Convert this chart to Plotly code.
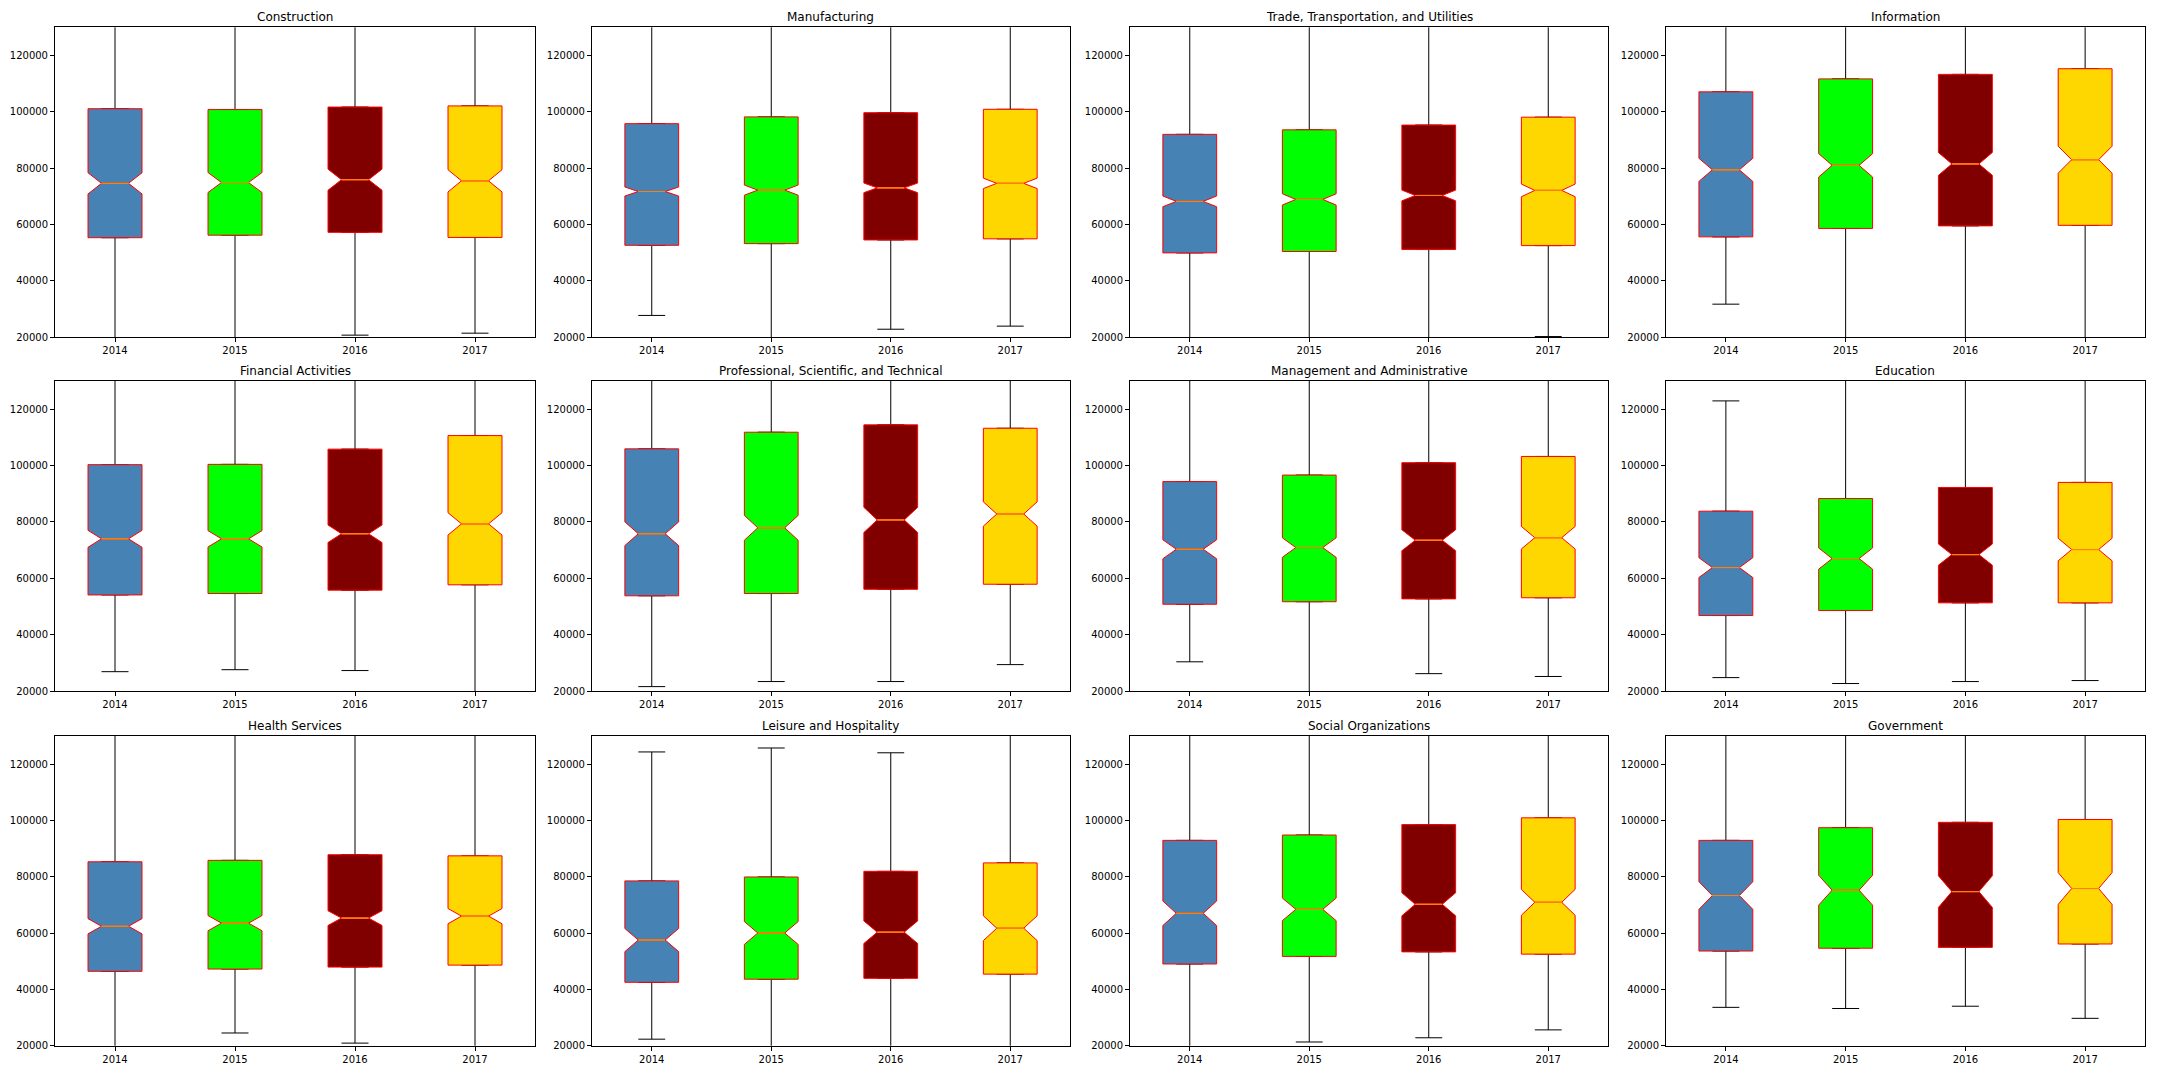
import plotly.graph_objects as go

years = ["2014", "2015", "2016", "2017"]
industries = [
    "Construction", "Manufacturing", "Trade, Transportation, and Utilities", "Information",
    "Financial Activities", "Professional, Scientific, and Technical",
    "Management and Administrative", "Education",
    "Health Services", "Leisure and Hospitality", "Social Organizations", "Government",
]
box_colors = ["steelblue", "lime", "maroon", "gold"]

q1_values = [
    [55300, 56200, 57200, 55400],
    [52600, 53200, 54500, 54900],
    [49900, 50400, 51100, 52500],
    [55600, 58600, 59500, 59700],
    [54100, 54600, 55800, 57700],
    [53800, 54600, 56100, 57900],
    [50800, 51700, 52700, 53100],
    [46800, 48600, 51300, 51300],
    [46400, 47200, 47900, 48600],
    [42500, 43600, 43900, 45400],
    [49000, 51700, 53300, 52500],
    [53600, 54600, 54900, 56100],
]
median_values = [
    [74600, 74900, 75900, 75500],
    [71700, 72200, 73000, 74600],
    [68200, 68900, 70300, 72100],
    [79400, 81000, 81500, 83000],
    [74000, 74000, 75800, 79300],
    [75800, 77900, 80700, 82800],
    [70300, 70900, 73500, 74400],
    [63800, 67000, 68400, 70200],
    [62400, 63500, 65300, 66000],
    [57500, 60000, 60300, 61700],
    [67000, 68400, 70200, 70900],
    [73300, 75200, 74700, 75800],
]
q3_values = [
    [101100, 100800, 101700, 102100],
    [95800, 98200, 99700, 100900],
    [92000, 93600, 95300, 98100],
    [107100, 111700, 113300, 115300],
    [100300, 100400, 105800, 110600],
    [105900, 111800, 114400, 113200],
    [94300, 96600, 101000, 103200],
    [83800, 88300, 92200, 94000],
    [85300, 85800, 87800, 87400],
    [78500, 79900, 81900, 84900],
    [92900, 94800, 98500, 100900],
    [92900, 97400, 99300, 100300],
]
notch_half_widths = [
    [3750, 3550, 3750, 3950],
    [1600, 1800, 1700, 1850],
    [1900, 2000, 1900, 2250],
    [4100, 4150, 4050, 4800],
    [3000, 2900, 3100, 3950],
    [4200, 4400, 4450, 4300],
    [3350, 3450, 3700, 4000],
    [3500, 3750, 3750, 4000],
    [2700, 2700, 2600, 2700],
    [4100, 4050, 4000, 4400],
    [4350, 4000, 4100, 4600],
    [4900, 5300, 5600, 5650],
]
lower_whiskers = [
    [12000, 12000, 20700, 21400],
    [27700, 12000, 22800, 23900],
    [12000, 12000, 12000, 20200],
    [31700, 12000, 12000, 12000],
    [26900, 27600, 27300, 12000],
    [21600, 23400, 23400, 29400],
    [30400, 12000, 26200, 25200],
    [24800, 22700, 23400, 23750],
    [12000, 24500, 20900, 12000],
    [22300, 12000, 12000, 12000],
    [12000, 21300, 22800, 25600],
    [33600, 33200, 34000, 29700],
]
upper_whiskers = [
    [150000, 150000, 150000, 150000],
    [150000, 150000, 150000, 150000],
    [150000, 150000, 150000, 150000],
    [150000, 150000, 150000, 150000],
    [150000, 150000, 150000, 150000],
    [150000, 150000, 150000, 150000],
    [150000, 150000, 150000, 150000],
    [122900, 150000, 150000, 150000],
    [150000, 150000, 150000, 150000],
    [124300, 125700, 124000, 150000],
    [150000, 150000, 150000, 150000],
    [150000, 150000, 150000, 150000],
]
y_ticks = [20000, 40000, 60000, 80000, 100000, 120000]

W, H = 2160, 1080
col_px = [(55, 535), (592, 1070), (1130, 1608), (1666, 2145)]
row_px = [(27.5, 339), (383, 695), (740, 1051.5)]
BOX_W = 0.45

fig = go.Figure()
annotations = []
layout_axes = {}

for i, name in enumerate(industries):
    r, c = divmod(i, 4)
    n = i + 1
    xa = "x" if n == 1 else f"x{n}"
    ya = "y" if n == 1 else f"y{n}"
    xd = [col_px[c][0] / W, col_px[c][1] / W]
    yd = [1 - row_px[r][1] / H, 1 - row_px[r][0] / H]
    for j, yr in enumerate(years):
        q1 = q1_values[i][j]
        md = median_values[i][j]
        q3 = q3_values[i][j]
        common = dict(x=[yr], xaxis=xa, yaxis=ya, showlegend=False,
                      hoverinfo="skip", boxpoints=False)
        # whiskers + caps (black)
        fig.add_trace(go.Box(q1=[q1], median=[md], q3=[q3],
                             lowerfence=[lower_whiskers[i][j]],
                             upperfence=[upper_whiskers[i][j]],
                             width=BOX_W / 2, whiskerwidth=1,
                             line=dict(color="black", width=1),
                             fillcolor=box_colors[j], **common))
        # notched box (red edge)
        fig.add_trace(go.Box(q1=[q1], median=[md], q3=[q3],
                             lowerfence=[q1], upperfence=[q3],
                             notched=True, notchspan=[notch_half_widths[i][j]],
                             notchwidth=0.25, width=BOX_W, whiskerwidth=0,
                             line=dict(color="red", width=1),
                             fillcolor=box_colors[j], **common))
        # median line (orange)
        fig.add_trace(go.Box(q1=[md], median=[md], q3=[md],
                             lowerfence=[md], upperfence=[md],
                             width=BOX_W / 2, whiskerwidth=0,
                             line=dict(color="#ff7f0e", width=1),
                             fillcolor="rgba(0,0,0,0)", **common))
    axis_common = dict(showline=True, mirror=True, linecolor="black", linewidth=1,
                       ticks="outside", ticklen=4, tickwidth=1, tickcolor="black",
                       tickfont=dict(size=10, color="black", family="DejaVu Sans"),
                       showgrid=False, zeroline=False, fixedrange=True)
    layout_axes["xaxis" if n == 1 else f"xaxis{n}"] = dict(
        domain=xd, anchor=ya, type="category", categoryorder="array",
        categoryarray=years, range=[-0.5, 3.5], **axis_common)
    layout_axes["yaxis" if n == 1 else f"yaxis{n}"] = dict(
        domain=yd, anchor=xa, range=[20000, 130000], tickvals=y_ticks,
        tickformat="d", **axis_common)
    annotations.append(dict(text=name, x=(xd[0] + xd[1]) / 2, y=yd[1],
                            xref="paper", yref="paper", xanchor="center",
                            yanchor="bottom", yshift=1, showarrow=False,
                            font=dict(size=12, color="black", family="DejaVu Sans")))

fig.update_layout(width=W, height=H, margin=dict(l=0, r=0, t=0, b=0),
                  paper_bgcolor="white", plot_bgcolor="white",
                  boxmode="overlay", annotations=annotations,
                  font=dict(family="DejaVu Sans"), **layout_axes)

fig.write_html("out.html")
